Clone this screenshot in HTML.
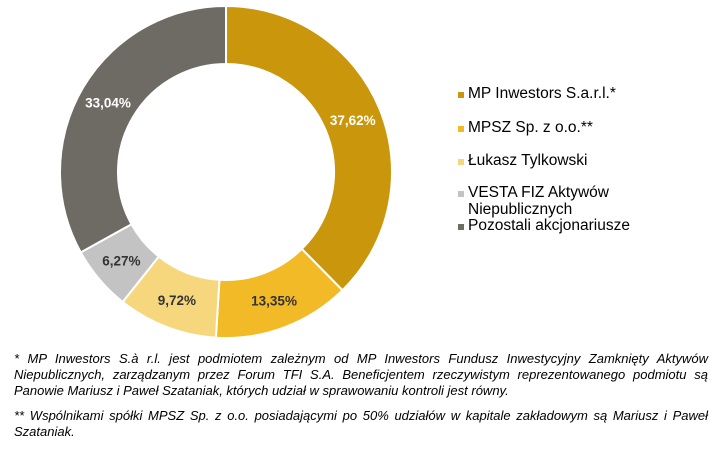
<!DOCTYPE html>
<html><head><meta charset="utf-8"><style>
body{margin:0;width:722px;height:450px;background:#fff;font-family:"Liberation Sans",sans-serif;position:relative;overflow:hidden}
svg{position:absolute;left:0;top:0}
.leg{position:absolute;left:468px;font-size:15.5px;color:#000;line-height:17px}
.sw{position:absolute;left:-10px;top:7px;width:6px;height:6px}
.note{position:absolute;left:14px;width:694px;font-size:13px;font-style:italic;text-align:justify;line-height:16px;color:#000}
</style></head><body>
<svg width="722" height="450" id="chart"></svg>
<div class="leg" style="top:85px"><span class="sw" style="background:#C9960C"></span>MP Inwestors S.a.r.l.*</div>
<div class="leg" style="top:119px"><span class="sw" style="background:#F2BA27"></span>MPSZ Sp. z o.o.**</div>
<div class="leg" style="top:152px"><span class="sw" style="background:#F7D77E"></span>Łukasz Tylkowski</div>
<div class="leg" style="top:184px"><span class="sw" style="background:#C3C3C3"></span>VESTA FIZ Aktywów<br>Niepublicznych</div>
<div class="leg" style="top:217px"><span class="sw" style="background:#6E6A64"></span>Pozostali akcjonariusze</div>
<div class="note" style="top:351px">* MP Inwestors S.à r.l. jest podmiotem zależnym od MP Inwestors Fundusz Inwestycyjny Zamknięty Aktywów Niepublicznych, zarządzanym przez Forum TFI S.A. Beneficjentem rzeczywistym reprezentowanego podmiotu są Panowie Mariusz i Paweł Szataniak, których udział w sprawowaniu kontroli jest równy.</div>
<div class="note" style="top:408px">** Wspólnikami spółki MPSZ Sp. z o.o. posiadającymi po 50% udziałów w kapitale zakładowym są Mariusz i Paweł Szataniak.</div>
<script>
const categories=["MP Inwestors S.a.r.l.","MPSZ Sp. z o.o.","Łukasz Tylkowski","VESTA FIZ Aktywów Niepublicznych","Pozostali akcjonariusze"];
const values=[37.62,13.35,9.72,6.27,33.04];
const labels=["37,62%","13,35%","9,72%","6,27%","33,04%"];
const colors=["#C9960C","#F2BA27","#F7D77E","#C3C3C3","#6E6A64"];
const labelColors=["#fff","#333","#333","#333","#fff"];
const cx=226,cy=172,R=166,r=108,LR=137;
const svg=document.getElementById('chart');
const NS="http://www.w3.org/2000/svg";
const total=values.reduce((a,b)=>a+b,0);
function pt(rad,a){return [cx+rad*Math.sin(a),cy-rad*Math.cos(a)];}
let acc=0;
values.forEach((v,i)=>{
  const a0=acc/total*2*Math.PI,a1=(acc+v)/total*2*Math.PI;acc+=v;
  const large=(a1-a0)>Math.PI?1:0;
  const [x0,y0]=pt(R,a0),[x1,y1]=pt(R,a1),[x2,y2]=pt(r,a1),[x3,y3]=pt(r,a0);
  const p=document.createElementNS(NS,'path');
  p.setAttribute('d',`M${x0},${y0}A${R},${R} 0 ${large} 1 ${x1},${y1}L${x2},${y2}A${r},${r} 0 ${large} 0 ${x3},${y3}Z`);
  p.setAttribute('fill',colors[i]);p.setAttribute('stroke','#fff');p.setAttribute('stroke-width','2');
  
  
  svg.appendChild(p);
  const [lx,ly]=pt(LR,(a0+a1)/2);
  const t=document.createElementNS(NS,'text');
  t.setAttribute('x',lx);t.setAttribute('y',ly+5);t.setAttribute('text-anchor','middle');
  t.setAttribute('font-size','13.5');t.setAttribute('font-weight','bold');t.setAttribute('fill',labelColors[i]);
  t.setAttribute('font-family','Liberation Sans, sans-serif');
  t.textContent=labels[i];
  
  
  svg.appendChild(t);
});
</script>
</body></html>
